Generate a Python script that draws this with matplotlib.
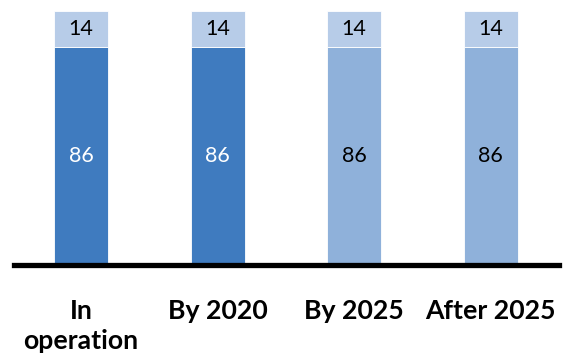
import matplotlib
matplotlib.use("Agg")
import matplotlib.pyplot as plt

categories = ["In\noperation", "By 2020", "By 2025", "After 2025"]
lower_values = [86, 86, 86, 86]
upper_values = [14, 14, 14, 14]
lower_colors = ["#3F7BBF", "#3F7BBF", "#8FB1DA", "#8FB1DA"]
lower_text_colors = ["white", "white", "black", "black"]
upper_color = "#B7CCE8"

plt.rcParams["font.family"] = ["Lato", "DejaVu Sans"]

fig = plt.figure(figsize=(5.69, 3.58), dpi=100)
ax = fig.add_axes([0.0246, 0.259, 0.958, 0.710])

x = list(range(len(categories)))
width = 0.395
ax.bar(x, lower_values, width=width, color=lower_colors, edgecolor="white", linewidth=0.6, zorder=2)
ax.bar(x, upper_values, width=width, bottom=lower_values, color=upper_color,
       edgecolor="white", linewidth=0.6, zorder=2)

for xi, lo, up, tc in zip(x, lower_values, upper_values, lower_text_colors):
    ax.text(xi, lo / 2, f"{lo}", ha="center", va="center", fontsize=15.5, color=tc, zorder=3)
    ax.text(xi, lo + up / 2, f"{up}", ha="center", va="center", fontsize=15.5, color="black", zorder=3)

ax.set_xlim(-0.49, 3.5)
ax.set_ylim(0, 100)
ax.set_xticks(x)
ax.set_xticklabels(categories, fontsize=19.2, fontweight="bold", linespacing=1.3)
ax.tick_params(axis="x", length=0, pad=24)
ax.set_yticks([])
for side in ["top", "right", "left"]:
    ax.spines[side].set_visible(False)
ax.spines["bottom"].set_linewidth(3.8)
ax.spines["bottom"].set_color("black")
ax.spines["bottom"].set_zorder(4)

fig.savefig("out.png", dpi=100)
